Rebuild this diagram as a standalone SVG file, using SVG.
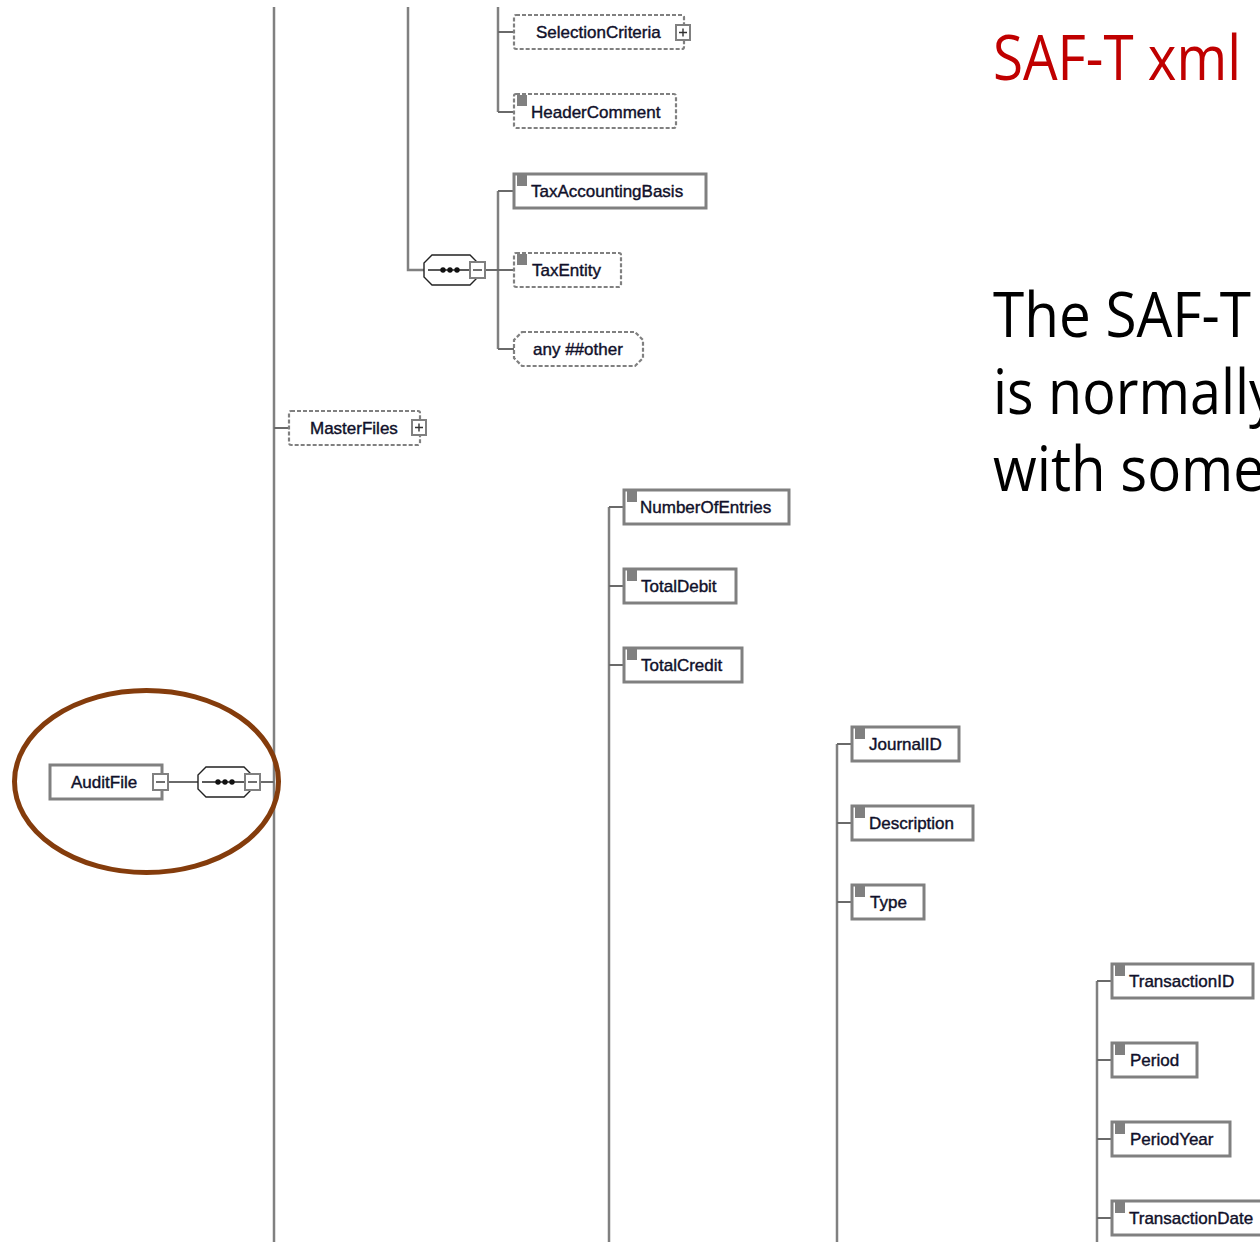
<svg xmlns="http://www.w3.org/2000/svg" xmlns:xlink="http://www.w3.org/1999/xlink" width="1260" height="1242" viewBox="0 0 1260 1242">
<style>
.box{fill:#fff;stroke:#808080;stroke-width:3}
.opt{fill:#fff;stroke:#808080;stroke-width:2.2;stroke-dasharray:4 2}
.conn{stroke:#808080;stroke-width:2.5;fill:none}
.stub{stroke:#6a6a6a;stroke-width:2;fill:none}
.lbl{font-family:"Liberation Sans",Arial,sans-serif;font-size:17px;fill:#10102a;stroke:#10102a;stroke-width:0.4}
.mk{fill:#808080}
.pm{fill:#fff;stroke:#808080;stroke-width:2}
.sign{stroke:#333;stroke-width:1.4;fill:none}
.comp{fill:#fff;stroke:#222;stroke-width:1.4}
.cline{stroke:#222;stroke-width:1.3}
.big{font-family:"Open Sans","Noto Sans",sans-serif;font-size:63px}
</style>
<defs>
<rect id="mk" class="mk" width="10" height="11"/>
<g id="dots"><circle cx="-7" cy="0" r="2.7" fill="#111"/><circle cx="0" cy="0" r="2.7" fill="#111"/><circle cx="7" cy="0" r="2.7" fill="#111"/></g>
</defs>
<rect width="1260" height="1242" fill="#fff"/>

<g id="connectors">
<path class="conn" d="M274 7V1242"/>
<path class="conn" d="M408 7V270H424"/>
<path class="conn" d="M498 7V112"/>
<path class="stub" d="M498 32H514M498 112H514"/>
<path class="conn" d="M498 191V349"/>
<path class="stub" d="M485 270H514M498 191H514M498 349H514"/>
<path class="stub" d="M274 428H289"/>
<path class="conn" d="M609 507V1242"/>
<path class="stub" d="M609 507H624M609 586H624M609 665H624"/>
<path class="conn" d="M837 744V1242"/>
<path class="stub" d="M837 744H852M837 823H852M837 902H852"/>
<path class="conn" d="M1097 981V1242"/>
<path class="stub" d="M1097 981H1112M1097 1060H1112M1097 1139H1112M1097 1218H1112"/>
<path class="stub" d="M168 782H198M260 782H274"/>
</g>

<g id="SelectionCriteria">
<rect class="opt" x="514" y="15" width="170" height="34" rx="2"/>
<text class="lbl" x="536" y="38">SelectionCriteria</text>
<rect class="pm" x="676" y="25" width="14" height="15"/>
<path class="sign" d="M679 32.5H687M683 28.5V36.5"/>
</g>

<g id="HeaderComment">
<rect class="opt" x="514" y="94" width="162" height="34" rx="2"/>
<use xlink:href="#mk" x="517" y="95"/>
<text class="lbl" x="531" y="118">HeaderComment</text>
</g>

<g id="TaxAccountingBasis">
<rect class="box" x="514" y="174" width="192" height="34"/>
<use xlink:href="#mk" x="517" y="175"/>
<text class="lbl" x="531" y="197">TaxAccountingBasis</text>
</g>

<g id="sequence1">
<path class="comp" d="M432 255H470L478 263V277L470 285H432L424 277V263Z"/>
<path class="cline" d="M428 270H470"/>
<use xlink:href="#dots" x="450" y="270"/>
<rect class="pm" x="470" y="262" width="15" height="16"/>
<path class="sign" d="M473 270H482"/>
</g>

<g id="TaxEntity">
<rect class="opt" x="514" y="253" width="107" height="34" rx="2"/>
<use xlink:href="#mk" x="517" y="254"/>
<text class="lbl" x="532" y="276">TaxEntity</text>
</g>

<g id="anyOther">
<path class="opt" d="M522 332H635L643 340V358L635 366H522L514 358V340Z"/>
<text class="lbl" x="533" y="355">any ##other</text>
</g>

<g id="MasterFiles">
<rect class="opt" x="289" y="411" width="131" height="34" rx="2"/>
<text class="lbl" x="310" y="434">MasterFiles</text>
<rect class="pm" x="412" y="420" width="14" height="15"/>
<path class="sign" d="M415 427.5H423M419 423.5V431.5"/>
</g>

<g id="NumberOfEntries">
<rect class="box" x="624" y="490" width="165" height="34"/>
<use xlink:href="#mk" x="627" y="491"/>
<text class="lbl" x="640" y="513">NumberOfEntries</text>
</g>

<g id="TotalDebit">
<rect class="box" x="624" y="569" width="112" height="34"/>
<use xlink:href="#mk" x="627" y="570"/>
<text class="lbl" x="641" y="592">TotalDebit</text>
</g>

<g id="TotalCredit">
<rect class="box" x="624" y="648" width="118" height="34"/>
<use xlink:href="#mk" x="627" y="649"/>
<text class="lbl" x="641" y="671">TotalCredit</text>
</g>

<g id="JournalID">
<rect class="box" x="852" y="727" width="107" height="34"/>
<use xlink:href="#mk" x="855" y="728"/>
<text class="lbl" x="869" y="750">JournalID</text>
</g>

<g id="Description">
<rect class="box" x="852" y="806" width="121" height="34"/>
<use xlink:href="#mk" x="855" y="807"/>
<text class="lbl" x="869" y="829">Description</text>
</g>

<g id="Type">
<rect class="box" x="852" y="885" width="72" height="34"/>
<use xlink:href="#mk" x="855" y="886"/>
<text class="lbl" x="870" y="908">Type</text>
</g>

<g id="TransactionID">
<rect class="box" x="1112" y="964" width="141" height="34"/>
<use xlink:href="#mk" x="1115" y="965"/>
<text class="lbl" x="1129" y="987">TransactionID</text>
</g>

<g id="Period">
<rect class="box" x="1112" y="1043" width="85" height="34"/>
<use xlink:href="#mk" x="1115" y="1044"/>
<text class="lbl" x="1130" y="1066">Period</text>
</g>

<g id="PeriodYear">
<rect class="box" x="1112" y="1122" width="118" height="34"/>
<use xlink:href="#mk" x="1115" y="1123"/>
<text class="lbl" x="1130" y="1145">PeriodYear</text>
</g>

<g id="TransactionDate">
<rect class="box" x="1112" y="1201" width="162" height="34"/>
<use xlink:href="#mk" x="1115" y="1202"/>
<text class="lbl" x="1129" y="1224">TransactionDate</text>
</g>

<g id="AuditFile">
<rect class="box" x="50" y="765" width="112" height="34"/>
<text class="lbl" x="71" y="788">AuditFile</text>
<rect class="pm" x="153" y="774" width="15" height="16"/>
<path class="sign" d="M156 782H165"/>
</g>

<g id="sequence0">
<path class="comp" d="M206 767H244L252 775V789L244 797H206L198 789V775Z"/>
<path class="cline" d="M202 782H245"/>
<use xlink:href="#dots" x="225" y="782"/>
<rect class="pm" x="245" y="774" width="15" height="16"/>
<path class="sign" d="M248 782H257"/>
</g>

<g id="highlight">
<ellipse cx="146.5" cy="781.5" rx="132" ry="91" fill="none" stroke="#843C0C" stroke-width="5"/>
</g>

<g id="caption">
<text class="big" x="993" y="80" fill="#C00000" textLength="248" lengthAdjust="spacingAndGlyphs">SAF-T xml</text>
<text class="big" x="993" y="337" fill="#000" textLength="258" lengthAdjust="spacingAndGlyphs">The SAF-T</text>
<text class="big" x="993" y="414" fill="#000" textLength="284" lengthAdjust="spacingAndGlyphs">is normally</text>
<text class="big" x="993" y="491" fill="#000" textLength="272" lengthAdjust="spacingAndGlyphs">with some</text>
</g>
</svg>
